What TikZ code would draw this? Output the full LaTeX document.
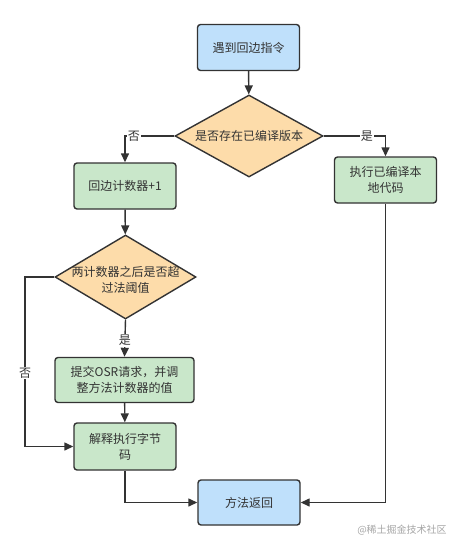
\documentclass[tikz,border=0pt]{standalone}
\usepackage{fontspec}
\setmainfont{Noto Sans CJK SC}
\usetikzlibrary{shapes.geometric,arrows.meta}

\definecolor{edgegray}{HTML}{333333}
\definecolor{stepblue}{HTML}{BFE0FB}
\definecolor{stepgreen}{HTML}{C9E7CA}
\definecolor{askorange}{HTML}{FDDCAA}

\tikzset{
	stepbox/.style={draw=edgegray,line width=1.4pt,rounded corners=3pt,
		minimum width=102pt,minimum height=46pt,inner sep=2pt,
		align=center,text=edgegray,font=\fontsize{12}{16}\selectfont},
	askbox/.style={draw=edgegray,line width=1.4pt,fill=askorange,shape=diamond,
		aspect=1.8,inner sep=0pt},
	arr/.style={draw=edgegray,line width=1.4pt,-{Triangle[length=9pt,width=8pt]}},
	lbl/.style={fill=white,inner sep=1pt,text=edgegray,font=\fontsize{12}{14}\selectfont}
}

\begin{document}
\begin{tikzpicture}[x=1pt,y=-1pt]

	\useasboundingbox[fill=white] (0,0) rectangle (461,551);

	% steps
	\node[stepbox,fill=stepblue] (start) at (248.5,47.5) {遇到回边指令};
	\node[askbox,minimum width=148pt,minimum height=82pt] (has) at (249,136) {};
	\node[text=edgegray,font=\fontsize{12}{16}\selectfont] (hastxt) at (has) {是否存在已编译版本};
	\node[stepbox,fill=stepgreen] (count) at (125,186) {回边计数器+1};
	\node[stepbox,fill=stepgreen] (exec) at (385.5,180) {执行已编译本\\地代码};
	\node[askbox,minimum width=141pt,minimum height=84pt] (over) at (125.5,277) {};
	\node[text=edgegray,align=center,font=\fontsize{12}{16}\selectfont] (overtxt) at (125.5,280) {两计数器之后是否超\\过法阈值};
	\node[stepbox,fill=stepgreen,minimum width=139pt,minimum height=45pt] (osr) at (124.5,380) {提交OSR请求，并调\\整方法计数器的值};
	\node[stepbox,fill=stepgreen,minimum height=47pt] (interp) at (125,446.5) {解释执行字节\\码};
	\node[stepbox,fill=stepblue,minimum height=45pt] (ret) at (249,502.5) {方法返回};

	\coordinate (lft) at (25,373);

	% flow
	\draw[arr] (start) -- (has);
	\draw[arr] (has.west) -| node[lbl,pos=0.41] {否} (count.north);
	\draw[arr] (has.east) -| node[lbl,pos=0.35] {是} (exec.north);
	\draw[arr] (count) -- (over);
	\draw[arr] (over.south) -- node[lbl,pos=0.56] {是} (osr.north);
	\draw[arr] (osr) -- (interp);
	\draw[arr] (over.west) -| (lft) node[lbl] {否} |- (interp.west);
	\draw[arr] (interp.south) |- (ret.west);
	\draw[arr] (exec.south) |- (ret.east);

	\node[text=gray!70,font=\fontsize{10}{12}\selectfont] (mark) at (402,530) {@稀土掘金技术社区};

\end{tikzpicture}
\end{document}
